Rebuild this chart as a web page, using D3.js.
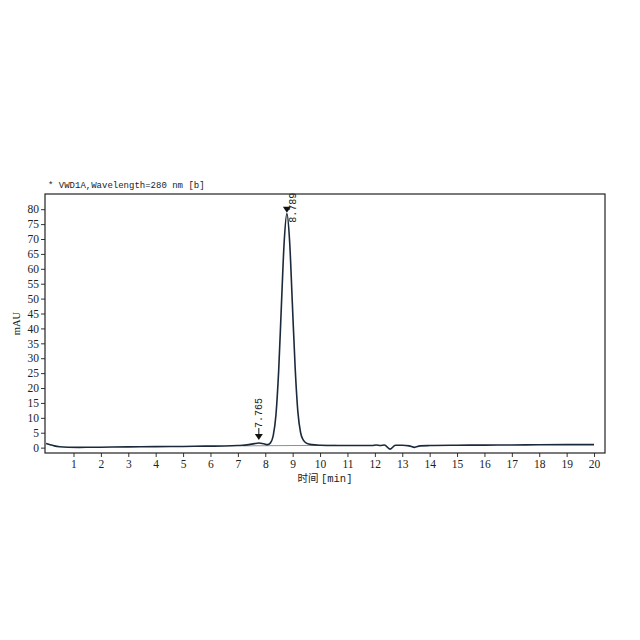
<!DOCTYPE html>
<meta charset="utf-8">
<style>
  body { margin: 0; background: #fff; }
  text { font-family: "Liberation Serif", "DejaVu Serif", serif; fill: #222; }
  .mono { font-family: "Liberation Mono", "DejaVu Sans Mono", monospace; }
</style>
<div id="chart"></div>
<script src="https://d3js.org/d3.v7.min.js"></script>
<script>

// signal trace (time in min, mAU)
var times = [0, 0.15, 0.3, 0.5, 0.8, 1.2, 2, 3, 4, 5, 5.8, 6.5, 7, 7.4, 7.6, 7.765, 7.95, 8.08,
  8.19, 8.29, 8.39, 8.49, 8.59, 8.69, 8.789, 8.89, 8.99, 9.09, 9.19, 9.29, 9.39, 9.5, 9.7,
  10, 10.5, 11, 11.9, 12.05, 12.2, 12.35, 12.55, 12.75, 13, 13.25, 13.45, 13.65, 14,
  15, 16, 17, 18, 19, 20];
var signal = [1.4, 1.0, 0.6, 0.3, 0.15, 0.1, 0.15, 0.25, 0.35, 0.4, 0.5, 0.55, 0.7, 1.0, 1.35, 1.55, 1.3, 1.0,
  1.6, 4.0, 11, 26, 48, 69, 78.5, 69, 48, 27, 12, 5, 2.5, 1.5, 1.0,
  0.8, 0.7, 0.7, 0.7, 0.9, 0.7, 0.9, -0.5, 0.8, 0.8, 0.6, 0.1, 0.6, 0.7,
  0.8, 0.85, 0.9, 0.95, 1.0, 1.0];

// drawn integration baseline
var baseTimes = [7.2, 10.6];
var baseValues = [0.6, 0.8];

// peak marks
var peakTimes = [7.765, 8.789];
var peakValues = [1.55, 78.5];
var peakLabels = ["7.765", "8.789"];

var xTicks = d3.range(1, 21);
var yTicks = d3.range(0, 81, 5);

var W = 640, H = 640;
var margin = {left: 45, top: 194, right: 35, bottom: 187};
var width = W - margin.left - margin.right,
    height = H - margin.top - margin.bottom;

var svg = d3.select("#chart").append("svg")
    .attr("width", W).attr("height", H);

var g = svg.append("g")
    .attr("transform", "translate(" + margin.left + "," + margin.top + ")");

var x = d3.scaleLinear().domain([-0.04, 20.4]).range([0, width]);
var y = d3.scaleLinear().domain([-1.8, 85.1]).range([height, 0]);

// axes
var xAxis = g.append("g")
  .attr("transform", "translate(0," + height + ")")
  .call(d3.axisBottom(x).tickValues(xTicks).tickSize(4).tickPadding(3));
var yAxis = g.append("g")
  .call(d3.axisLeft(y).tickValues(yTicks).tickSize(4).tickPadding(2));

[xAxis, yAxis].forEach(function(a) {
  a.select(".domain").remove();
  a.selectAll("line").attr("stroke", "#333");
  a.selectAll("text").attr("font-size", 11.5).attr("fill", "#222");
});

// frame
g.append("rect")
  .attr("width", width).attr("height", height)
  .attr("fill", "none").attr("stroke", "#222").attr("stroke-width", 1.2);

// baseline
var baseData = baseTimes.map(function(t, i) { return [t, baseValues[i]]; });
g.append("path")
  .datum(baseData)
  .attr("fill", "none")
  .attr("stroke", "#8a9099")
  .attr("stroke-width", 1)
  .attr("d", d3.line().x(function(d) { return x(d[0]); }).y(function(d) { return y(d[1]); }));

// trace
var data = times.map(function(t, i) { return [t, signal[i]]; });
g.append("path")
  .datum(data)
  .attr("fill", "none")
  .attr("stroke", "#1b2a3b")
  .attr("stroke-width", 1.6)
  .attr("d", d3.line()
    .curve(d3.curveMonotoneX)
    .x(function(d) { return x(d[0]); })
    .y(function(d) { return y(d[1]); }));

// peak markers and labels
peakTimes.forEach(function(t, i) {
  var px = x(t), py = y(peakValues[i]);
  var big = peakValues[i] > 10;
  var tipY = big ? py - 1 : py - 3;
  g.append("path")
    .attr("d", "M" + (px - 4) + "," + (tipY - 6) + "L" + (px + 4) + "," + (tipY - 6) + "L" + px + "," + tipY + "Z")
    .attr("fill", "#111");
  if (!big) {
    g.append("line")
      .attr("x1", px).attr("x2", px)
      .attr("y1", tipY - 12).attr("y2", tipY - 6)
      .attr("stroke", "#111");
  }
  var lx = big ? px + 9 : px + 3;
  var ly = big ? py + 9 : tipY - 12;
  g.append("text")
    .attr("class", "mono")
    .attr("transform", "translate(" + lx + "," + ly + ") rotate(-90)")
    .attr("font-size", 10)
    .attr("fill", big ? "#3a4a70" : "#555")
    .text(peakLabels[i]);
});

// titles
svg.append("text")
  .attr("class", "mono")
  .attr("x", 48).attr("y", 188)
  .attr("font-size", 9)
  .text("* VWD1A,Wavelength=280 nm [b]");

svg.append("text")
  .attr("transform", "translate(20," + (margin.top + height / 2) + ") rotate(-90)")
  .attr("text-anchor", "middle")
  .attr("font-size", 10.5)
  .text("mAU");

var xl = svg.append("text")
  .attr("x", 325).attr("y", 482)
  .attr("text-anchor", "middle")
  .attr("font-size", 10.5);
xl.append("tspan")
  .style("font-family", "'Noto Sans CJK SC', sans-serif").text("时间 ");
xl.append("tspan").attr("class", "mono").text("[min]");

</script>
